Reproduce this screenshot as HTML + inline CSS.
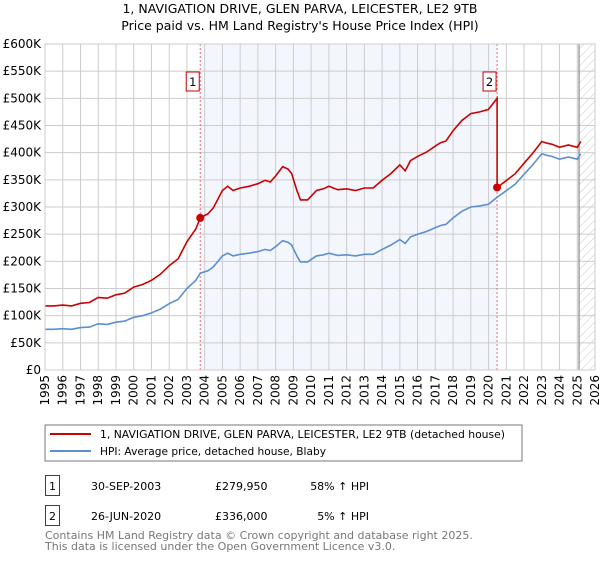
<!DOCTYPE html>
<html><head><meta charset="utf-8"><style>
body{margin:0;background:#fff;width:600px;height:560px;overflow:hidden;font-family:"DejaVu Sans","Liberation Sans",sans-serif}
svg text{font-family:"DejaVu Sans","Liberation Sans",sans-serif}
</style></head><body>
<svg id="c" width="600" height="560" xmlns="http://www.w3.org/2000/svg">
<text x="300" y="13" text-anchor="middle" font-size="12.5">1, NAVIGATION DRIVE, GLEN PARVA, LEICESTER, LE2 9TB</text>
<text x="300" y="30" text-anchor="middle" font-size="12.5">Price paid vs. HM Land Registry's House Price Index (HPI)</text>
<g id="plot"></g>
<rect x="45" y="425" width="477" height="36" fill="none" stroke="#777"/>
<line x1="50" y1="434" x2="91" y2="434" stroke="#cc0000" stroke-width="2"/>
<text x="100" y="438" font-size="11" textLength="405" lengthAdjust="spacingAndGlyphs">1, NAVIGATION DRIVE, GLEN PARVA, LEICESTER, LE2 9TB (detached house)</text>
<line x1="50" y1="451" x2="91" y2="451" stroke="#5b8fd0" stroke-width="2"/>
<text x="100" y="455" font-size="11" textLength="226" lengthAdjust="spacingAndGlyphs">HPI: Average price, detached house, Blaby</text>
<rect x="45.5" y="475.5" width="14" height="20" fill="#fff" stroke="#cc0000"/>
<text x="52.5" y="490" font-size="11" text-anchor="middle">1</text>
<text x="91" y="490" font-size="11">30-SEP-2003</text>
<text x="215" y="490" font-size="11">£279,950</text>
<text x="369" y="490" font-size="11" text-anchor="end">58% ↑ HPI</text>
<rect x="45.5" y="505.5" width="14" height="20" fill="#fff" stroke="#cc0000"/>
<text x="52.5" y="520" font-size="11" text-anchor="middle">2</text>
<text x="91" y="520" font-size="11">26-JUN-2020</text>
<text x="215" y="520" font-size="11">£336,000</text>
<text x="369" y="520" font-size="11" text-anchor="end">5% ↑ HPI</text>
<text x="45" y="539" font-size="11" fill="#777">Contains HM Land Registry data © Crown copyright and database right 2025.</text>
<text x="45" y="550" font-size="11" fill="#777">This data is licensed under the Open Government Licence v3.0.</text>
</svg>
<script>
const years=[1995,1996,1997,1998,1999,2000,2001,2002,2003,2004,2005,2006,2007,2008,2009,2010,2011,2012,2013,2014,2015,2016,2017,2018,2019,2020,2021,2022,2023,2024,2025,2026];
const yTicks=[0,50,100,150,200,250,300,350,400,450,500,550,600];
const hpiT=[1995,1995.5,1996,1996.5,1997,1997.5,1998,1998.5,1999,1999.5,2000,2000.5,2001,2001.5,2002,2002.5,2003,2003.5,2003.75,2004.2,2004.5,2005,2005.3,2005.6,2006,2006.5,2007,2007.4,2007.7,2008,2008.4,2008.7,2008.9,2009.2,2009.4,2009.8,2010.3,2010.7,2011,2011.5,2012,2012.5,2013,2013.5,2014,2014.5,2015,2015.3,2015.6,2016,2016.5,2017,2017.3,2017.6,2018,2018.5,2019,2019.5,2020,2020.48,2021,2021.5,2022,2022.5,2023,2023.3,2023.6,2024,2024.5,2025,2025.2];
const hpiV=[75,75,76,75,78,79,85,84,88,90,97,100,105,112,122,130,150,165,178,183,190,210,215,210,213,215,218,222,220,227,238,235,230,210,199,199,210,212,215,211,212,210,213,213,222,230,240,233,245,250,255,262,266,268,280,292,300,302,305,318,330,342,360,378,398,395,393,388,392,388,398,392];
const sales=[{t:2003.75,v:279.95,n:"1"},{t:2020.48,v:336,n:"2"}];
const NS="http://www.w3.org/2000/svg";
const X0=45,X1=595,Y0=370,Y1=44;
const xs=t=>X0+(t-1995)/31*(X1-X0);
const ys=v=>Y0-v/600*(Y0-Y1);
const g=document.getElementById('plot');
function mk(tag,at,txt){const e=document.createElementNS(NS,tag);for(const k in at)e.setAttribute(k,at[k]);if(txt!=null)e.textContent=txt;g.appendChild(e);return e;}
let e;
e=mk('rect',{x:xs(sales[0].t),y:Y1,width:xs(sales[1].t)-xs(sales[0].t),height:Y0-Y1,fill:'#eef3fc',opacity:0.7});


const d=document.createElementNS(NS,'defs');d.innerHTML='<pattern id="h" width="6" height="6" patternUnits="userSpaceOnUse" patternTransform="rotate(45)"><line x1="0" y1="0" x2="0" y2="6" stroke="#bbb" stroke-width="0.8"/></pattern>';document.getElementById('c').appendChild(d);
e=mk('rect',{x:xs(2025.1),y:Y1,width:X1-xs(2025.1),height:Y0-Y1,fill:'url(#h)'});


years.forEach(y=>{
 e=mk('line',{x1:xs(y),x2:xs(y),y1:Y1,y2:Y0,stroke:'#cccccc'});
 
 
 e=mk('text',{x:0,y:0,'font-size':12,'text-anchor':'end',transform:`translate(${xs(y)+4},${Y0+5}) rotate(-90)`},y);
 
 
});
yTicks.forEach(v=>{
 e=mk('line',{x1:X0,x2:X1,y1:ys(v),y2:ys(v),stroke:'#cccccc'});
 
 
 e=mk('text',{x:41,y:ys(v)+4,'font-size':12,'text-anchor':'end'},v===0?'£0':'£'+v+'K');
 
 
});
e=mk('line',{x1:xs(2025.1),x2:xs(2025.1),y1:Y1,y2:Y0,stroke:'#888',"stroke-width":1.2});


sales.forEach(s=>{
 e=mk('line',{x1:xs(s.t),x2:xs(s.t),y1:Y1,y2:Y0,stroke:'#ee6677','stroke-dasharray':'2,2'});
 
 
});
const interp=t=>{for(let i=1;i<hpiT.length;i++)if(t<=hpiT[i]){const a=(t-hpiT[i-1])/(hpiT[i]-hpiT[i-1]);return hpiV[i-1]+a*(hpiV[i]-hpiV[i-1]);}return hpiV[hpiV.length-1];};
const r1=sales[0].v/interp(sales[0].t), r2=sales[1].v/interp(sales[1].t);
let bp='',rp='';
hpiT.forEach((t,i)=>{bp+=(i?'L':'M')+xs(t).toFixed(1)+','+ys(hpiV[i]).toFixed(1);});
hpiT.forEach((t,i)=>{
 if(t<sales[1].t) rp+=(i?'L':'M')+xs(t).toFixed(1)+','+ys(hpiV[i]*r1).toFixed(1);
 else { if(t===sales[1].t){rp+='L'+xs(t).toFixed(1)+','+ys(hpiV[i]*r1).toFixed(1);} rp+='L'+xs(t).toFixed(1)+','+ys(hpiV[i]*r2).toFixed(1);}
});
e=mk('path',{d:bp,fill:'none',stroke:'#5b8fd0','stroke-width':1.6});


e=mk('path',{d:rp,fill:'none',stroke:'#cc0000','stroke-width':1.6});


sales.forEach(s=>{
 e=mk('circle',{cx:xs(s.t),cy:ys(s.v),r:4,fill:'#cc0000'});
 
 
 e=mk('rect',{x:xs(s.t)-14,y:72,width:13,height:19,fill:'#fff',stroke:'#cc0000'});
 
 
 e=mk('text',{x:xs(s.t)-7.5,y:86,'font-size':11.5,'text-anchor':'middle'},s.n);
 
 
});
e=mk('rect',{x:X0,y:Y1,width:X1-X0,height:Y0-Y1,fill:'none',stroke:'#ccc'});


</script>
</body></html>
